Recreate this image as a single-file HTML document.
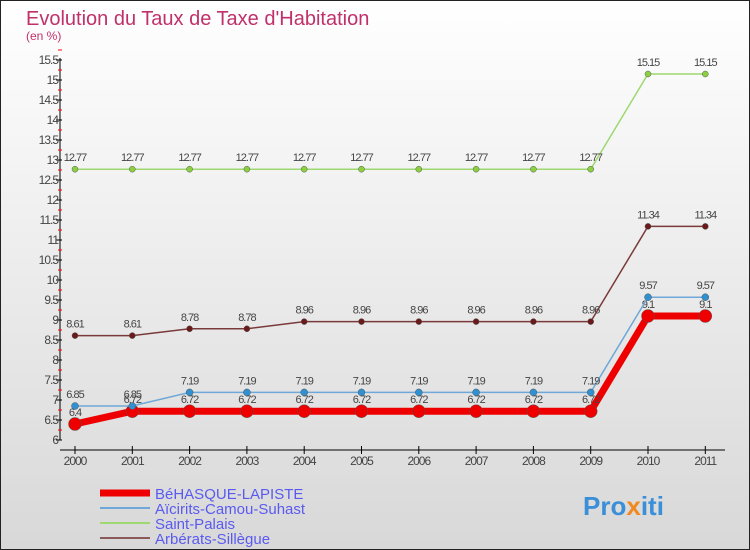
<!DOCTYPE html>
<html><head><meta charset="utf-8"><style>
body{margin:0;}
#c{width:750px;height:550px;position:relative;background:linear-gradient(#fff,#d8d8d8);font-family:"Liberation Sans",sans-serif;overflow:hidden;}
</style></head><body>
<div id="c">
<svg id="s" width="750" height="550" xmlns="http://www.w3.org/2000/svg">
<rect x="0.5" y="0.5" width="749" height="549" fill="none" stroke="#222"/>
<text x="26" y="25" font-size="20" fill="#c0306a">Evolution du Taux de Taxe d'Habitation</text>
<text x="26" y="40" font-size="12" fill="#c0306a">(en %)</text>
<g id="axes"></g><g id="series"></g><g id="legend"></g>
<text x="583" y="515" font-size="26" font-weight="bold" fill="#3a8fd8">Pro<tspan fill="#f08a20">x</tspan>iti</text>
</svg></div>
<script>
const years=[2000,2001,2002,2003,2004,2005,2006,2007,2008,2009,2010,2011];
const behasque=[6.4,6.72,6.72,6.72,6.72,6.72,6.72,6.72,6.72,6.72,9.1,9.1];
const aicirits=[6.85,6.85,7.19,7.19,7.19,7.19,7.19,7.19,7.19,7.19,9.57,9.57];
const saintPalais=[12.77,12.77,12.77,12.77,12.77,12.77,12.77,12.77,12.77,12.77,15.15,15.15];
const arberats=[8.61,8.61,8.78,8.78,8.96,8.96,8.96,8.96,8.96,8.96,11.34,11.34];
const yTicks=[6,6.5,7,7.5,8,8.5,9,9.5,10,10.5,11,11.5,12,12.5,13,13.5,14,14.5,15,15.5];
const NS="http://www.w3.org/2000/svg";
const X=i=>75+i*57.3, Y=v=>440-(v-6)*40;
function mk(p,t,a){const e=document.createElementNS(NS,t);for(const k in a)e.setAttribute(k,a[k]);p.appendChild(e);return e;}
const ax=document.getElementById('axes');
let l=mk(ax,'line',{x1:60,y1:58,x2:60,y2:440,stroke:'#000'});


l=mk(ax,'line',{x1:60,y1:450,x2:725,y2:450,stroke:'#000'});


yTicks.forEach(v=>{
 const t=mk(ax,'line',{x1:56,y1:Y(v),x2:62,y2:Y(v),stroke:'#000'});
 
 
 const r=mk(ax,'line',{x1:58,y1:Y(v)-10,x2:62,y2:Y(v)-10,stroke:'#f00'});
 
 
 const tx=mk(ax,'text',{x:58,y:Y(v)+4,'font-size':12,'text-anchor':'end',fill:'#444','letter-spacing':'-1'});
 tx.textContent=String(v);
 
 
});
years.forEach((y,i)=>{
 const t=mk(ax,'line',{x1:X(i),y1:446,x2:X(i),y2:454,stroke:'#000'});
 
 
 const tx=mk(ax,'text',{x:X(i),y:465,'font-size':12,'text-anchor':'middle',fill:'#444','letter-spacing':'-1'});
 tx.textContent=y;
 
 
});
const sg=document.getElementById('series');
function series(name,data,color,w,r,fill){
 const g=mk(sg,'g',{});
 
 
 const pl=mk(g,'polyline',{points:data.map((v,i)=>X(i)+','+Y(v)).join(' '),fill:'none',stroke:color,'stroke-width':w});
 
 
 data.forEach((v,i)=>{
  const c=mk(g,'circle',{cx:X(i),cy:Y(v),r:r,fill:fill,stroke:'#555','stroke-width':0.5});
  
  
  const t=mk(g,'text',{x:X(i),y:Y(v)-8,'font-size':11,'text-anchor':'middle',fill:'#444','letter-spacing':'-1'});
  t.textContent=String(v);
  
  
 });
}
series('saint-palais',saintPalais,'#9ed870',1.5,3,'#8ad040');
series('arberats',arberats,'#7a3a3a',1.5,3,'#6a1a1a');
series('behasque',behasque,'#ee0000',7,6.5,'#ee0000');
series('aicirits',aicirits,'#6fa8d8',1.5,3.5,'#3090d0');
const lg=document.getElementById('legend');
[['BéHASQUE-LAPISTE','#ee0000',7],['Aïcirits-Camou-Suhast','#6fa8d8',2],['Saint-Palais','#9ed870',2],['Arbérats-Sillègue','#8a5a5a',2]].forEach((e,i)=>{
 const y=493+i*15;
 const ln=mk(lg,'line',{x1:100,y1:y,x2:150,y2:y,stroke:e[1],'stroke-width':e[2]});
 
 
 const t=mk(lg,'text',{x:155,y:y+6,'font-size':15,fill:'#5a5af0'});
 t.textContent=e[0];
 
 
});
</script>
</body></html>
